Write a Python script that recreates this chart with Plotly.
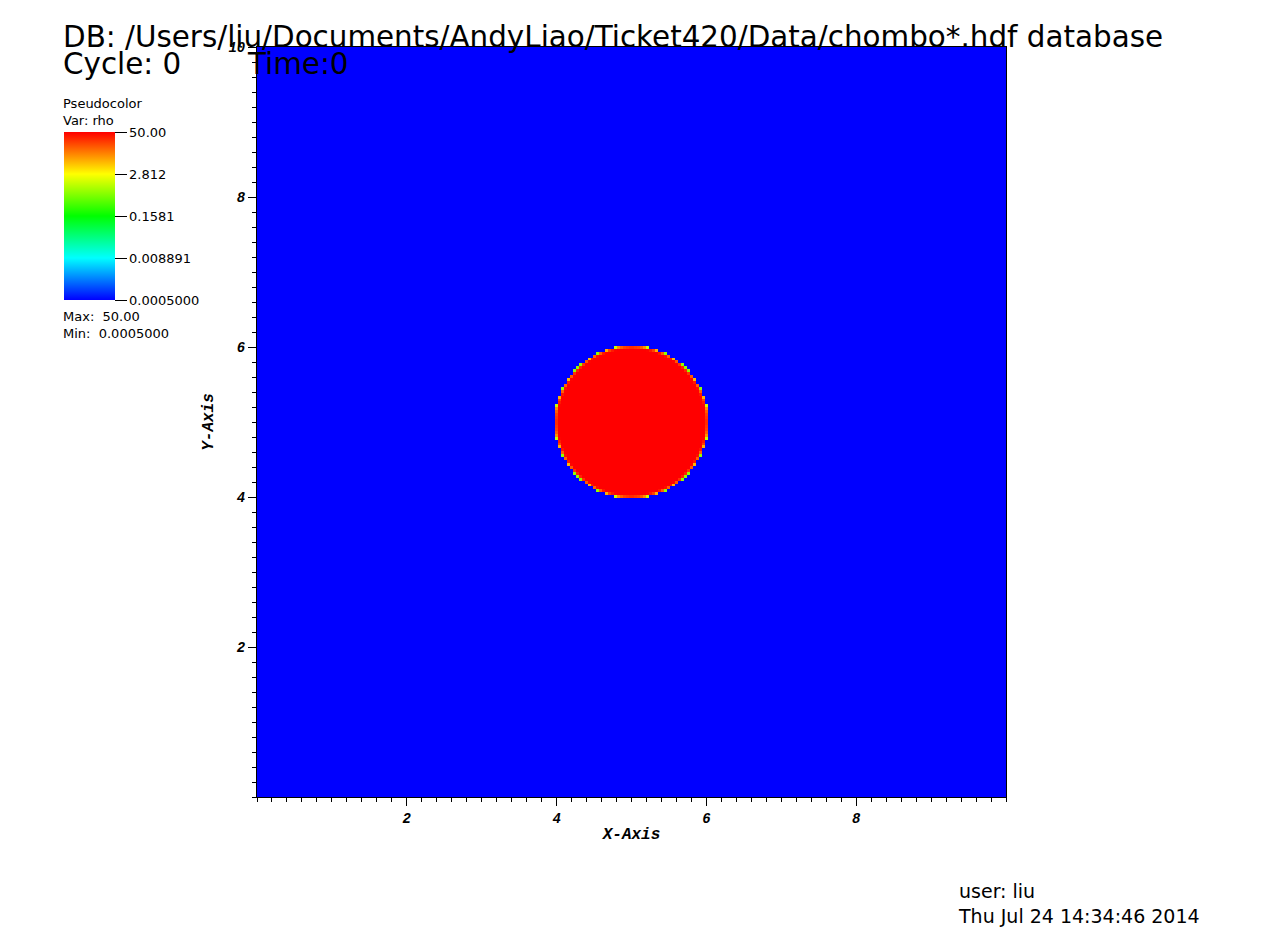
import numpy as np
import plotly.graph_objects as go

# ---- data ----
n_cells = 256
domain_min, domain_max = 0.0, 10.0
circle_center = (5.0, 5.0)
circle_radius = 1.0
rho_inside = 50.0
rho_outside = 0.0005

cbar_tick_values = [0.0005, 0.008891, 0.1581, 2.812, 50.0]
cbar_tick_labels = ["0.0005000", "0.008891", "0.1581", "2.812", "50.00"]
x_tick_values = [2, 4, 6, 8]
y_tick_values = [2, 4, 6, 8, 10]

# cell-averaged density (volume fraction of the disk in each cell)
dx = (domain_max - domain_min) / n_cells
centers = domain_min + dx * (np.arange(n_cells) + 0.5)
sub = 8
offs = (np.arange(sub) + 0.5) / sub - 0.5
frac = np.zeros((n_cells, n_cells))
for oy in offs:
    for ox in offs:
        XX, YY = np.meshgrid(centers + ox * dx, centers + oy * dx)
        frac += ((XX - circle_center[0]) ** 2 + (YY - circle_center[1]) ** 2 <= circle_radius ** 2)
frac /= sub * sub
rho = rho_inside * frac + rho_outside * (1 - frac)
zlog = np.log10(rho)

W, H = 1280, 938
L, R, T, B = 257, 1006, 47, 797

colorscale = [[0.0, "#0000ff"], [0.25, "#00ffff"], [0.5, "#00ff00"], [0.75, "#ffff00"], [1.0, "#ff0000"]]

fig = go.Figure(go.Heatmap(
    x=centers, y=centers, z=zlog,
    zmin=np.log10(rho_outside), zmax=np.log10(rho_inside),
    colorscale=colorscale, zsmooth=False, hoverinfo="skip",
    colorbar=dict(
        x=64 / W, xanchor="left", xref="paper",
        y=1 - 132 / H, yanchor="top", yref="paper",
        lenmode="pixels", len=168, thicknessmode="pixels", thickness=51,
        outlinewidth=0, ticks="outside", ticklen=12, tickcolor="black", tickwidth=1,
        tickvals=list(np.log10(cbar_tick_values)), ticktext=cbar_tick_labels,
        tickfont=dict(family="DejaVu Sans", size=13, color="black"),
        xpad=0, ypad=0,
    ),
))

tick_font = dict(family="Liberation Mono", size=14, color="black", weight="bold", style="italic")
title_font = dict(family="Liberation Mono", size=16, color="black", weight="bold", style="italic")
axis_common = dict(
    range=[domain_min, domain_max], showgrid=False, zeroline=False, automargin=False,
    showline=True, mirror=True, linecolor="black", linewidth=1,
    ticks="outside", ticklen=8, tickcolor="black", tickwidth=1,
    tickfont=tick_font,
    minor=dict(dtick=0.2, tick0=0, ticks="outside", ticklen=4, tickcolor="black"),
)

fig.update_layout(
    width=W, height=H, paper_bgcolor="white", plot_bgcolor="white",
    margin=dict(l=0, r=0, t=0, b=0, autoexpand=False), showlegend=False,
    xaxis=dict(axis_common, domain=[L / W, R / W], tickvals=x_tick_values,
               title=dict(text="X-Axis", font=title_font, standoff=2)),
    yaxis=dict(axis_common, domain=[1 - B / H, 1 - T / H], tickvals=y_tick_values,
               title=dict(text="Y-Axis", font=title_font, standoff=10)),
)

def ann(text, x, y, size, xanchor="left", yanchor="top"):
    fig.add_annotation(text=text, x=x / W, y=1 - y / H, xref="paper", yref="paper",
                       xanchor=xanchor, yanchor=yanchor, showarrow=False, align="left",
                       font=dict(family="DejaVu Sans", size=size, color="black"))

ann("DB: /Users/liu/Documents/AndyLiao/Ticket420/Data/chombo*.hdf database", 61, 18, 29.4)
ann("Cycle: 0", 61, 45, 29.4)
ann("Time:0", 245, 45, 29.4)
ann("Pseudocolor<br>Var: rho", 61, 94, 13)
ann("Max:  50.00<br>Min:  0.0005000", 61, 307, 13)
ann("user: liu<br>Thu Jul 24 14:34:46 2014", 956, 878, 19)

fig.write_html("out.html", config={"displayModeBar": False},
               post_script="document.body.style.margin='0px';")
